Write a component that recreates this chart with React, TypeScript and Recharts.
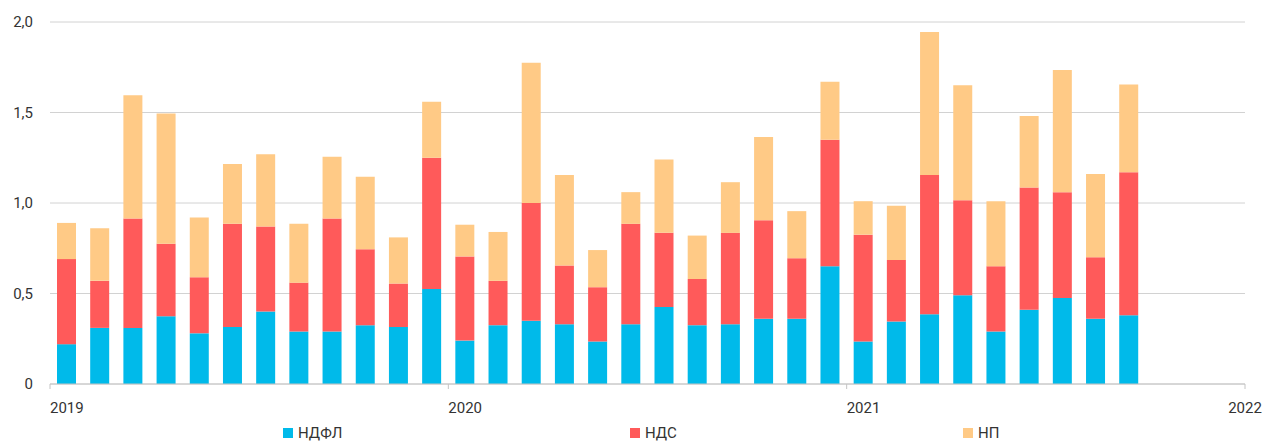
import React from "react";
import {
  BarChart, Bar, XAxis, YAxis, CartesianGrid, Legend,
} from "recharts";

// monthly values, Jan 2019 .. Sep 2021
const months = [
  "2019-01", "2019-02", "2019-03", "2019-04", "2019-05", "2019-06",
  "2019-07", "2019-08", "2019-09", "2019-10", "2019-11", "2019-12",
  "2020-01", "2020-02", "2020-03", "2020-04", "2020-05", "2020-06",
  "2020-07", "2020-08", "2020-09", "2020-10", "2020-11", "2020-12",
  "2021-01", "2021-02", "2021-03", "2021-04", "2021-05", "2021-06",
  "2021-07", "2021-08", "2021-09",
];

const ndfl = [
  0.22, 0.31, 0.31, 0.375, 0.28, 0.315, 0.40, 0.29, 0.29, 0.325, 0.315, 0.525,
  0.24, 0.325, 0.35, 0.33, 0.235, 0.33, 0.425, 0.325, 0.33, 0.36, 0.36, 0.65,
  0.235, 0.345, 0.385, 0.49, 0.29, 0.41, 0.475, 0.36, 0.38,
];

const nds = [
  0.47, 0.26, 0.605, 0.40, 0.31, 0.57, 0.47, 0.27, 0.625, 0.42, 0.24, 0.725,
  0.465, 0.245, 0.65, 0.325, 0.30, 0.555, 0.41, 0.255, 0.505, 0.545, 0.335, 0.70,
  0.59, 0.34, 0.77, 0.525, 0.36, 0.675, 0.585, 0.34, 0.79,
];

const np = [
  0.20, 0.29, 0.68, 0.72, 0.33, 0.33, 0.40, 0.325, 0.34, 0.40, 0.255, 0.31,
  0.175, 0.27, 0.775, 0.50, 0.205, 0.175, 0.405, 0.24, 0.28, 0.46, 0.26, 0.32,
  0.185, 0.30, 0.79, 0.635, 0.36, 0.395, 0.675, 0.46, 0.485,
];

const yearTicks = [0, 12, 24, 36];
const yTicks = [0, 0.5, 1, 1.5, 2];

const series = [
  { key: "ndfl", name: "НДФЛ", color: "#00BAEA" },
  { key: "nds", name: "НДС", color: "#FF5A5A" },
  { key: "np", name: "НП", color: "#FFCA86" },
];
const legendLeft = [283, 630, 963];

const data = months.map((m, i) => ({
  month: m,
  pos: i + 0.5,
  ndfl: ndfl[i],
  nds: nds[i],
  np: np[i],
}));

const FONT = "Roboto, 'Open Sans', sans-serif";

function YearTick(props: any) {
  const { x, y, payload, index } = props;
  const last = index === yearTicks.length - 1;
  return (
    <text
      x={x}
      y={y}
      dy={22}
      textAnchor={last ? "middle" : "start"}
      fill="#333"
      fontSize={15}
      fontFamily={FONT}
    >
      {2019 + payload.value / 12}
    </text>
  );
}

function LegendBox() {
  return (
    <div style={{ position: "relative", width: 1262, height: 18 }}>
      {series.map((s, i) => (
        <div
          key={s.key}
          style={{
            position: "absolute",
            left: legendLeft[i],
            top: 0,
            display: "flex",
            alignItems: "center",
            fontFamily: FONT,
            fontSize: 15,
            lineHeight: "18px",
            color: "#333",
          }}
        >
          <span style={{ width: 10, height: 10, background: s.color, marginRight: 5 }} />
          {s.name}
        </div>
      ))}
    </div>
  );
}

export default function App() {
  return (
    <div style={{ position: "absolute", left: 0, top: 0, width: 1262, height: 442, background: "#fff" }}>
      <BarChart
        width={1262}
        height={442}
        data={data}
        margin={{ top: 22, right: 17, bottom: 0, left: 0 }}
        barSize={19}
      >
        <CartesianGrid vertical={false} stroke="#d2d2d2" />
        <XAxis
          dataKey="pos"
          type="number"
          domain={[0, 36]}
          ticks={yearTicks}
          height={58}
          axisLine={{ stroke: "#c4c4c4" }}
          tickLine={{ stroke: "#c4c4c4" }}
          tickSize={5}
          tick={<YearTick />}
          interval={0}
        />
        <YAxis
          domain={[0, 2]}
          ticks={yTicks}
          width={50}
          axisLine={false}
          tickLine={false}
          tickMargin={11}
          tick={{ fontSize: 15, fill: "#333", fontFamily: FONT }}
          tickFormatter={(v: number) => (v === 0 ? "0" : v.toFixed(1).replace(".", ","))}
        />
        <Legend
          verticalAlign="middle"
          align="center"
          content={<LegendBox />}
          wrapperStyle={{ position: "absolute", left: 0, top: 424, width: 1262, height: 18 }}
        />
        {series.map((s) => (
          <Bar
            key={s.key}
            dataKey={s.key}
            name={s.name}
            stackId="a"
            fill={s.color}
            isAnimationActive={false}
          />
        ))}
      </BarChart>
    </div>
  );
}
